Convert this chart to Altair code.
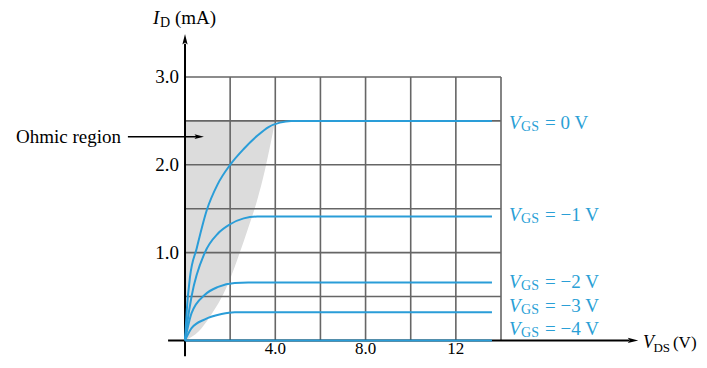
import altair as alt
import pandas as pd

# ---- data ----
vgs_names = ["0", "-1", "-2", "-3", "-4"]
vds_curves = [
    [0, 0.08, 0.22, 0.52, 0.96, 1.45, 2.0, 2.6, 3.2, 3.7, 4.2, 4.7, 13.6],
    [0, 0.1, 0.29, 0.88, 1.47, 1.98, 2.6, 3.2, 13.6],
    [0, 0.29, 0.88, 1.47, 2.2, 2.8, 13.6],
    [0, 0.29, 0.88, 1.62, 2.2, 13.6],
    [0, 13.6],
]
id_curves = [
    [0, 0.35, 0.72, 1.05, 1.48, 1.78, 2.0, 2.18, 2.33, 2.43, 2.48, 2.5, 2.5],
    [0, 0.2, 0.5, 1.0, 1.22, 1.32, 1.39, 1.41, 1.41],
    [0, 0.31, 0.52, 0.61, 0.655, 0.66, 0.66],
    [0, 0.14, 0.24, 0.30, 0.32, 0.32],
    [0, 0],
]
label_texts = ["= 0 V", "= \u22121 V", "= \u22122 V", "= \u22123 V", "= \u22124 V"]

ohmic_x = [0, 0.6, 1.1, 1.6, 2.0, 2.4, 2.8, 3.2, 3.55, 3.8, 3.99]
ohmic_y = [0, 0.1, 0.27, 0.48, 0.7, 0.98, 1.28, 1.6, 1.95, 2.25, 2.5]
ohmic_top = 2.5

x_grid = [2, 4, 6, 8, 10, 12, 14]
y_grid = [0.5, 1.0, 1.5, 2.0, 2.5, 3.0]
x_ticks = [4, 8, 12]
x_tick_labels = ["4.0", "8.0", "12"]
y_ticks = [1, 2, 3]
y_tick_labels = ["1.0", "2.0", "3.0"]

# ---- layout ----
label_y = [2.48, 1.43, 0.67, 0.39, 0.13]
label_x = 14.36

BLUE = "#2a9dd8"
LBLUE = "#2a9fd6"
GRID = "#666666"
FONT = "Liberation Serif"

xs = alt.Scale(domain=[0, 14], nice=False, zero=False)
ys = alt.Scale(domain=[0, 3], nice=False, zero=False)


def X(f="x"):
    return alt.X(f, type="quantitative", scale=xs, axis=None)


def Y(f="y"):
    return alt.Y(f, type="quantitative", scale=ys, axis=None)


gray = alt.Chart(pd.DataFrame({"x": ohmic_x, "y": ohmic_y, "top": [ohmic_top] * len(ohmic_x)})).mark_area(
    color="#dcdcdc", interpolate="monotone"
).encode(x=X(), y=Y(), y2="top:Q")

vgrid = alt.Chart(pd.DataFrame({"x": x_grid, "y": [0] * len(x_grid), "y2": [3] * len(x_grid)})).mark_rule(
    color=GRID, strokeWidth=1.6
).encode(x=X(), y=Y(), y2="y2:Q")

hgrid = alt.Chart(pd.DataFrame({"y": y_grid, "x": [0] * len(y_grid), "x2": [14] * len(y_grid)})).mark_rule(
    color=GRID, strokeWidth=1.6
).encode(x=X(), x2="x2:Q", y=Y())

rows = []
for name, xv, yv in zip(vgs_names, vds_curves, id_curves):
    for a, b in zip(xv, yv):
        rows.append({"vgs": name, "x": a, "y": b})
curves = alt.Chart(pd.DataFrame(rows)).mark_line(
    color=BLUE, strokeWidth=2, interpolate="monotone"
).encode(x=X(), y=Y(), detail="vgs:N")

xaxis = alt.Chart(pd.DataFrame({"x": [-0.75], "x2": [19.7], "y": [0]})).mark_rule(
    color="black", strokeWidth=2
).encode(x=X(), x2="x2:Q", y=Y())
yaxis = alt.Chart(pd.DataFrame({"x": [0], "y": [-0.18], "y2": [3.38]})).mark_rule(
    color="black", strokeWidth=2
).encode(x=X(), y=Y(), y2="y2:Q")

up_arrow = "M0,-1L0.5,1L0,0.6L-0.5,1Z"
right_arrow = "M1,0L-1,0.5L-0.6,0L-1,-0.5Z"
arr_up = alt.Chart(pd.DataFrame({"x": [0], "y": [3.43]})).mark_point(
    shape=up_arrow, filled=True, color="black", opacity=1, size=110
).encode(x=X(), y=Y())
arr_right = alt.Chart(pd.DataFrame({"x": [19.85], "y": [0]})).mark_point(
    shape=right_arrow, filled=True, color="black", opacity=1, size=110
).encode(x=X(), y=Y())

ohm_line = alt.Chart(pd.DataFrame({"x": [-2.53], "x2": [0.6], "y": [2.32]})).mark_rule(
    color="black", strokeWidth=1.6
).encode(x=X(), x2="x2:Q", y=Y())
ohm_head = alt.Chart(pd.DataFrame({"x": [0.63], "y": [2.32]})).mark_point(
    shape=right_arrow, filled=True, color="black", opacity=1, size=90
).encode(x=X(), y=Y())
ohm_text = alt.Chart(pd.DataFrame({"x": [-2.84], "y": [2.32], "t": ["Ohmic region"]})).mark_text(
    font=FONT, fontSize=19, align="right", baseline="middle", color="black"
).encode(x=X(), y=Y(), text="t:N")

ytick_text = alt.Chart(pd.DataFrame({"x": [0] * 3, "y": y_ticks, "t": y_tick_labels})).mark_text(
    font=FONT, fontSize=19, align="right", baseline="middle", dx=-6, color="black"
).encode(x=X(), y=Y(), text="t:N")
xtick_text = alt.Chart(pd.DataFrame({"x": x_ticks, "y": [0] * 3, "t": x_tick_labels})).mark_text(
    font=FONT, fontSize=17, align="center", baseline="alphabetic", dy=14, color="black"
).encode(x=X(), y=Y(), text="t:N")

# axis titles
id_I = alt.Chart(pd.DataFrame({"x": [-1.42], "y": [3.675], "t": ["I"]})).mark_text(
    font=FONT, fontSize=19, fontStyle="italic", align="left", baseline="middle", color="black"
).encode(x=X(), y=Y(), text="t:N")
id_D = alt.Chart(pd.DataFrame({"x": [-1.42], "y": [3.675], "t": ["D"]})).mark_text(
    font=FONT, fontSize=14, align="left", baseline="middle", dx=7, dy=5, color="black"
).encode(x=X(), y=Y(), text="t:N")
id_unit = alt.Chart(pd.DataFrame({"x": [-1.42], "y": [3.675], "t": ["(mA)"]})).mark_text(
    font=FONT, fontSize=19, align="left", baseline="middle", dx=22, color="black"
).encode(x=X(), y=Y(), text="t:N")

vds_V = alt.Chart(pd.DataFrame({"x": [20.29], "y": [-0.03], "t": ["V"]})).mark_text(
    font=FONT, fontSize=18, fontStyle="italic", align="left", baseline="middle", color="black"
).encode(x=X(), y=Y(), text="t:N")
vds_DS = alt.Chart(pd.DataFrame({"x": [20.29], "y": [-0.03], "t": ["DS"]})).mark_text(
    font=FONT, fontSize=13, align="left", baseline="middle", dx=10.5, dy=5, color="black"
).encode(x=X(), y=Y(), text="t:N")
vds_unit = alt.Chart(pd.DataFrame({"x": [20.29], "y": [-0.03], "t": ["(V)"]})).mark_text(
    font=FONT, fontSize=17, align="left", baseline="middle", dx=30, color="black"
).encode(x=X(), y=Y(), text="t:N")

lab_df = pd.DataFrame({"x": [label_x] * 5, "y": label_y, "t": label_texts,
                       "V": ["V"] * 5, "GS": ["GS"] * 5})
lab_V = alt.Chart(lab_df).mark_text(
    font=FONT, fontSize=19, fontStyle="italic", align="left", baseline="middle", color=LBLUE
).encode(x=X(), y=Y(), text="V:N")
lab_GS = alt.Chart(lab_df).mark_text(
    font=FONT, fontSize=14, align="left", baseline="middle", dx=12, dy=4, color=LBLUE
).encode(x=X(), y=Y(), text="GS:N")
lab_rest = alt.Chart(lab_df).mark_text(
    font=FONT, fontSize=19, align="left", baseline="middle", dx=36, color=LBLUE
).encode(x=X(), y=Y(), text="t:N")

chart = alt.layer(
    gray, vgrid, hgrid, xaxis, yaxis, curves, arr_up, arr_right,
    ohm_line, ohm_head, ohm_text, ytick_text, xtick_text,
    id_I, id_D, id_unit, vds_V, vds_DS, vds_unit, lab_V, lab_GS, lab_rest,
).properties(
    width=316, height=263.4,
    autosize=alt.AutoSizeParams(type="none"),
    padding={"left": 177, "top": 69, "right": 198, "bottom": 19},
).configure_view(stroke=None)

chart.save("out.html", embed_options={"renderer": "svg", "actions": False})
